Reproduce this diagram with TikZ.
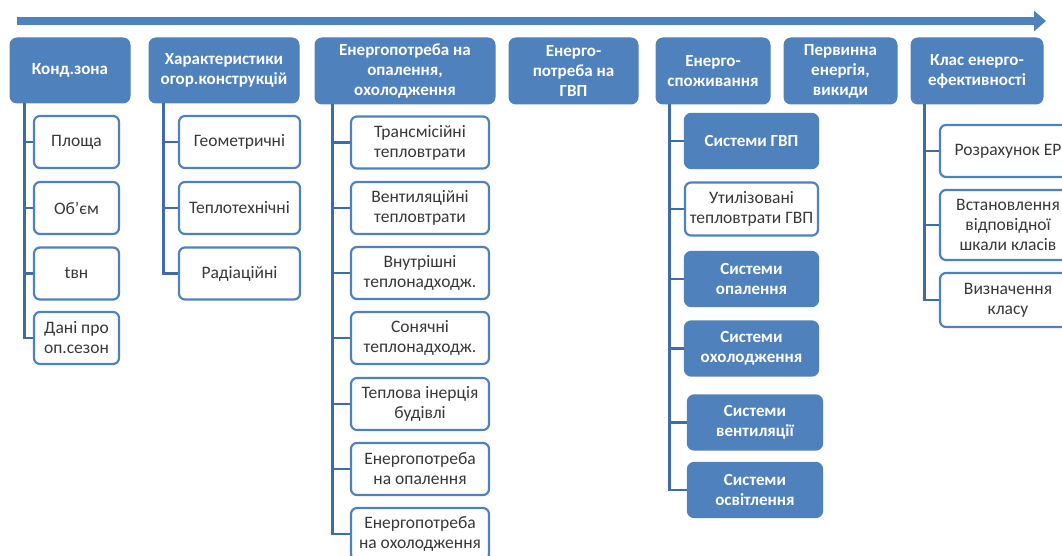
\documentclass[tikz,border=0pt]{standalone}
\usepackage{fontspec}
\setmainfont{Carlito}
\usetikzlibrary{arrows.meta}
\definecolor{ofblue}{HTML}{4F81BD}
\definecolor{lnblue}{HTML}{3E6CA7}
\begin{document}
\begin{tikzpicture}[x=1pt, y=-1pt, >={Triangle[length=12pt,width=20pt]},
  every node/.style={font=\fontsize{17.5}{20}\selectfont, align=center},
  hdr/.style={draw=ofblue, fill=ofblue, line width=1pt, rounded corners=7pt, text=white,
    font=\fontsize{17}{20}\selectfont\bfseries, inner sep=1pt},
  item/.style={draw=ofblue, fill=white, line width=2.2pt, rounded corners=6pt, text=black!78, inner sep=1pt},
  itemf/.style={item, fill=ofblue, text=white, font=\fontsize{17}{20}\selectfont\bfseries},
  link/.style={draw=lnblue, line width=2.4pt},
  timeline/.style={draw=ofblue, line width=8pt}]
  \useasboundingbox (0,0) rectangle (1062,556);
  \clip (0,0) rectangle (1062,556);
  % top arrow
  \coordinate (t0) at (17,21);
  \coordinate (t1) at (1046,21);
  \draw[timeline, ->] (t0) -- (t1);
  % headers
  \node[hdr, minimum width=120pt, minimum height=65pt] (kz)  at (70,70.5)    {Конд.зона};
  \node[hdr, minimum width=150pt, minimum height=65pt] (har) at (224,70.5)   {Характеристики\\огор.конструкцій};
  \node[hdr, minimum width=180pt, minimum height=66pt] (ep)  at (405,71)     {Енергопотреба на\\опалення,\\охолодження};
  \node[hdr, minimum width=129pt, minimum height=66pt] (gvp) at (573.5,71)   {Енерго-\\потреба на\\ГВП};
  \node[hdr, minimum width=114pt, minimum height=66pt] (es)  at (713,71)     {Енерго-\\споживання};
  \node[hdr, minimum width=113pt, minimum height=66pt] (pe)  at (840.5,71)   {Первинна\\енергія,\\викиди};
  \node[hdr, minimum width=132pt, minimum height=66pt] (kl)  at (977,71)     {Клас енерго-\\ефективності};
  % column 1
  \node[item, minimum width=85pt, minimum height=52pt] (kz1) at (76.5,142) {Площа};
  \node[item, minimum width=85pt, minimum height=52pt] (kz2) at (76.5,208) {Об’єм};
  \node[item, minimum width=85pt, minimum height=52pt] (kz3) at (76.5,273.5) {tвн};
  \node[item, minimum width=85pt, minimum height=52pt] (kz4) at (76.5,338) {Дані про\\оп.сезон};
  \foreach \i in {1,...,4} \draw[link] ([xshift=15pt]kz.south west) |- (kz\i.west);
  % column 2
  \node[item, minimum width=121pt, minimum height=52pt] (har1) at (239.5,142) {Геометричні};
  \node[item, minimum width=121pt, minimum height=52pt] (har2) at (239.5,208) {Теплотехнічні};
  \node[item, minimum width=121pt, minimum height=52pt] (har3) at (239.5,273.5) {Радіаційні};
  \foreach \i in {1,...,3} \draw[link] ([xshift=15pt]har.south west) |- (har\i.west);
  % column 3
  \node[item, minimum width=138pt, minimum height=52pt] (ep1) at (420,142.5) {Трансмісійні\\тепловтрати};
  \node[item, minimum width=138pt, minimum height=52pt] (ep2) at (420,208) {Вентиляційні\\тепловтрати};
  \node[item, minimum width=138pt, minimum height=52pt] (ep3) at (420,273) {Внутрішні\\теплонадходж.};
  \node[item, minimum width=138pt, minimum height=52pt] (ep4) at (420,338) {Сонячні\\теплонадходж.};
  \node[item, minimum width=138pt, minimum height=52pt] (ep5) at (420,404) {Теплова інерція\\будівлі};
  \node[item, minimum width=138pt, minimum height=52pt] (ep6) at (420,469) {Енергопотреба\\на опалення};
  \node[item, minimum width=138pt, minimum height=52pt] (ep7) at (420,534) {Енергопотреба\\на охолодження};
  \foreach \i in {1,...,7} \draw[link] ([xshift=18pt]ep.south west) |- (ep\i.west);
  % column 5
  \node[itemf, minimum width=133pt, minimum height=54pt] (es1) at (751.5,141) {Системи ГВП};
  \node[item,  minimum width=133pt, minimum height=53pt] (es2) at (751.5,209) {Утилізовані\\тепловтрати ГВП};
  \node[itemf, minimum width=133pt, minimum height=54pt] (es3) at (751.5,279) {Системи\\опалення};
  \node[itemf, minimum width=133pt, minimum height=54pt] (es4) at (751.5,348.5) {Системи\\охолодження};
  \node[itemf, minimum width=134pt, minimum height=54pt] (es5) at (755,422.5) {Системи\\вентиляції};
  \node[itemf, minimum width=134pt, minimum height=54pt] (es6) at (755,490) {Системи\\освітлення};
  \foreach \i in {1,...,6} \draw[link] ([xshift=14pt]es.south west) |- (es\i.west);
  % column 7
  \node[item, minimum width=136pt, minimum height=52pt] (kl1) at (1008,151) {Розрахунок ЕР};
  \node[item, minimum width=136pt, minimum height=70pt] (kl2) at (1008,225) {Встановлення\\відповідної\\шкали класів};
  \node[item, minimum width=136pt, minimum height=54pt] (kl3) at (1008,300) {Визначення\\класу};
  \foreach \i in {1,...,3} \draw[link] ([xshift=14pt]kl.south west) |- (kl\i.west);
\end{tikzpicture}
\end{document}
